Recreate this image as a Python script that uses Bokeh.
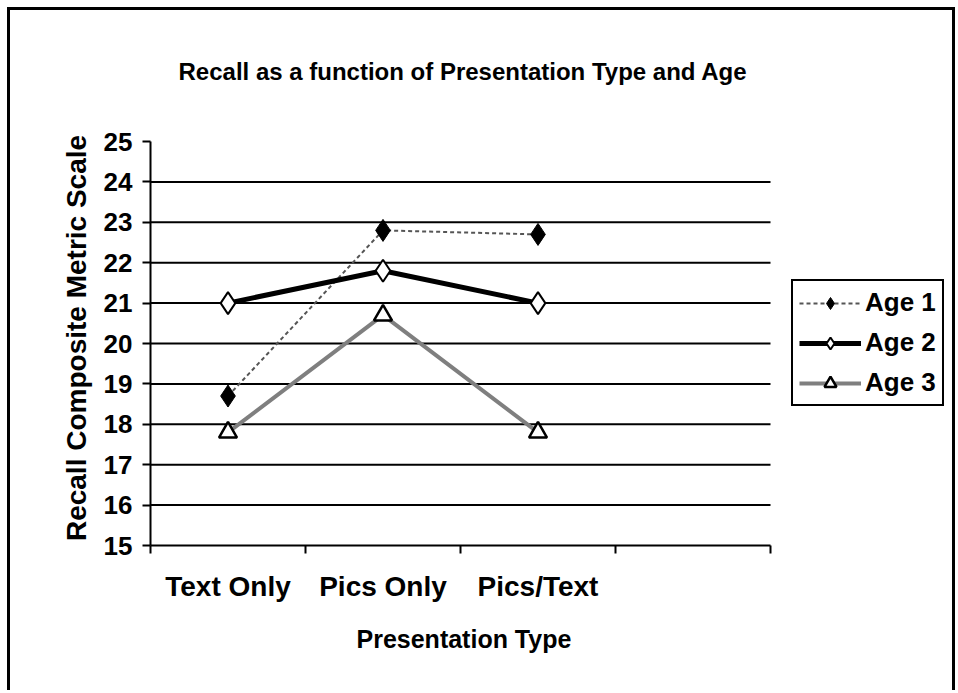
from bokeh.plotting import figure
from bokeh.models import (Range1d, FixedTicker, Legend, LegendItem, LinearAxis, Title)
from bokeh.embed import file_html
from bokeh.resources import INLINE

# ---- data ----
categories = ["Text Only", "Pics Only", "Pics/Text"]
n_slots = 4  # the category axis has one empty slot on the right
age1 = [18.7, 22.8, 22.7]
age2 = [21.0, 21.8, 21.0]
age3 = [17.8, 20.7, 17.8]
series_names = ["Age 1", "Age 2", "Age 3"]
y_min, y_max = 15, 25
y_ticks = list(range(y_min, y_max + 1))
grid_ticks = list(range(16, 25))

FONT = "Liberation Sans"

xs = [i + 0.5 for i in range(len(categories))]

# layout: the category slots occupy 150..770 px and 15..25 span 545..141 px;
# the frame is extended to the right (legend) and a little upwards
x_end = n_slots * (950 - 150) / (770 - 150)
px_per_unit = (545 - 141) / (y_max - y_min)
y_end = y_max + (141 - 130) / px_per_unit

p = figure(width=948, height=683, output_backend="svg", toolbar_location=None,
           x_range=Range1d(0, x_end), y_range=Range1d(y_min, y_end),
           x_axis_location=None, y_axis_location=None,
           min_border_left=140, min_border_right=8,
           min_border_top=100, min_border_bottom=148,
           background_fill_color="white", border_fill_color="white",
           outline_line_color=None)
p.styles = {"border-top": "3px solid black", "border-left": "3px solid black",
            "border-right": "3px solid black", "margin-left": "7px",
            "margin-top": "7px"}

p.title.text = "Recall as a function of Presentation Type and Age"
p.title.text_font = FONT
p.title.text_font_size = "24px"
p.title.text_font_style = "bold"
p.title.text_color = "black"
p.title.align = "left"
p.title.offset = 28
p.title.standoff = 91

# x axis: labels at category centres, tick marks at category boundaries
xaxis = LinearAxis(ticker=FixedTicker(ticks=xs, minor_ticks=list(range(n_slots + 1))),
                   bounds=(0, n_slots))
xaxis.major_label_overrides = {x: c for x, c in zip(xs, categories)}
xaxis.major_tick_out = 0
xaxis.major_tick_in = 0
xaxis.minor_tick_out = 8
xaxis.minor_tick_in = 0
xaxis.minor_tick_line_color = "black"
xaxis.minor_tick_line_width = 2
xaxis.axis_line_width = 2
xaxis.axis_line_color = "black"
xaxis.major_label_text_font = FONT
xaxis.major_label_text_font_size = "28px"
xaxis.major_label_text_font_style = "bold"
xaxis.major_label_text_color = "black"
xaxis.major_label_standoff = 17
p.add_layout(xaxis, "below")

# x axis title, centred under the category slots
xtitle = Title(text="Presentation Type", align="left", offset=206, standoff=36,
               text_font=FONT, text_font_size="25px", text_font_style="bold",
               text_color="black")
p.add_layout(xtitle, "below")

yaxis = LinearAxis(ticker=FixedTicker(ticks=y_ticks), bounds=(y_min, y_max))
yaxis.major_tick_out = 8
yaxis.major_tick_in = 0
yaxis.major_tick_line_width = 2
yaxis.major_tick_line_color = "black"
yaxis.minor_tick_out = 0
yaxis.minor_tick_in = 0
yaxis.axis_line_width = 2
yaxis.axis_line_color = "black"
yaxis.major_label_text_font = FONT
yaxis.major_label_text_font_size = "26px"
yaxis.major_label_text_font_style = "bold"
yaxis.major_label_text_color = "black"
yaxis.major_label_standoff = 10
yaxis.axis_label = "Recall Composite Metric Scale"
yaxis.axis_label_text_font = FONT
yaxis.axis_label_text_font_size = "28px"
yaxis.axis_label_text_font_style = "bold"
yaxis.axis_label_text_color = "black"
yaxis.axis_label_standoff = 9
p.add_layout(yaxis, "left")

p.xgrid.visible = False
p.ygrid.visible = False
# horizontal gridlines only across the category slots
p.segment(x0=[0] * len(grid_ticks), x1=[n_slots] * len(grid_ticks),
          y0=grid_ticks, y1=grid_ticks, line_color="black", line_width=2)

# series
l1 = p.line(xs, age1, line_color="#555555", line_width=2, line_dash="4 3")
s1 = p.scatter(xs, age1, marker="diamond", size=22, fill_color="black",
               line_color="black", line_width=1)
l2 = p.line(xs, age2, line_color="black", line_width=5)
s2 = p.scatter(xs, age2, marker="diamond", size=22, fill_color="white",
               line_color="black", line_width=2)
l3 = p.line(xs, age3, line_color="#7f7f7f", line_width=4)
s3 = p.scatter(xs, age3, marker="triangle", size=18, fill_color="white",
               line_color="black", line_width=2.5)

legend = Legend(items=[LegendItem(label=series_names[0], renderers=[l1, s1]),
                       LegendItem(label=series_names[1], renderers=[l2, s2]),
                       LegendItem(label=series_names[2], renderers=[l3, s3])],
                location=(641, 139))
legend.label_text_font = FONT
legend.label_text_font_size = "26px"
legend.label_text_font_style = "bold"
legend.label_text_color = "black"
legend.glyph_width = 62
legend.glyph_height = 30
legend.label_height = 30
legend.label_standoff = 4
legend.spacing = 9
legend.padding = 6
legend.margin = 0
legend.border_line_color = "black"
legend.border_line_alpha = 1.0
legend.border_line_width = 2
legend.background_fill_alpha = 1.0
p.add_layout(legend, "center")

open("out.html", "w").write(file_html(p, INLINE))
